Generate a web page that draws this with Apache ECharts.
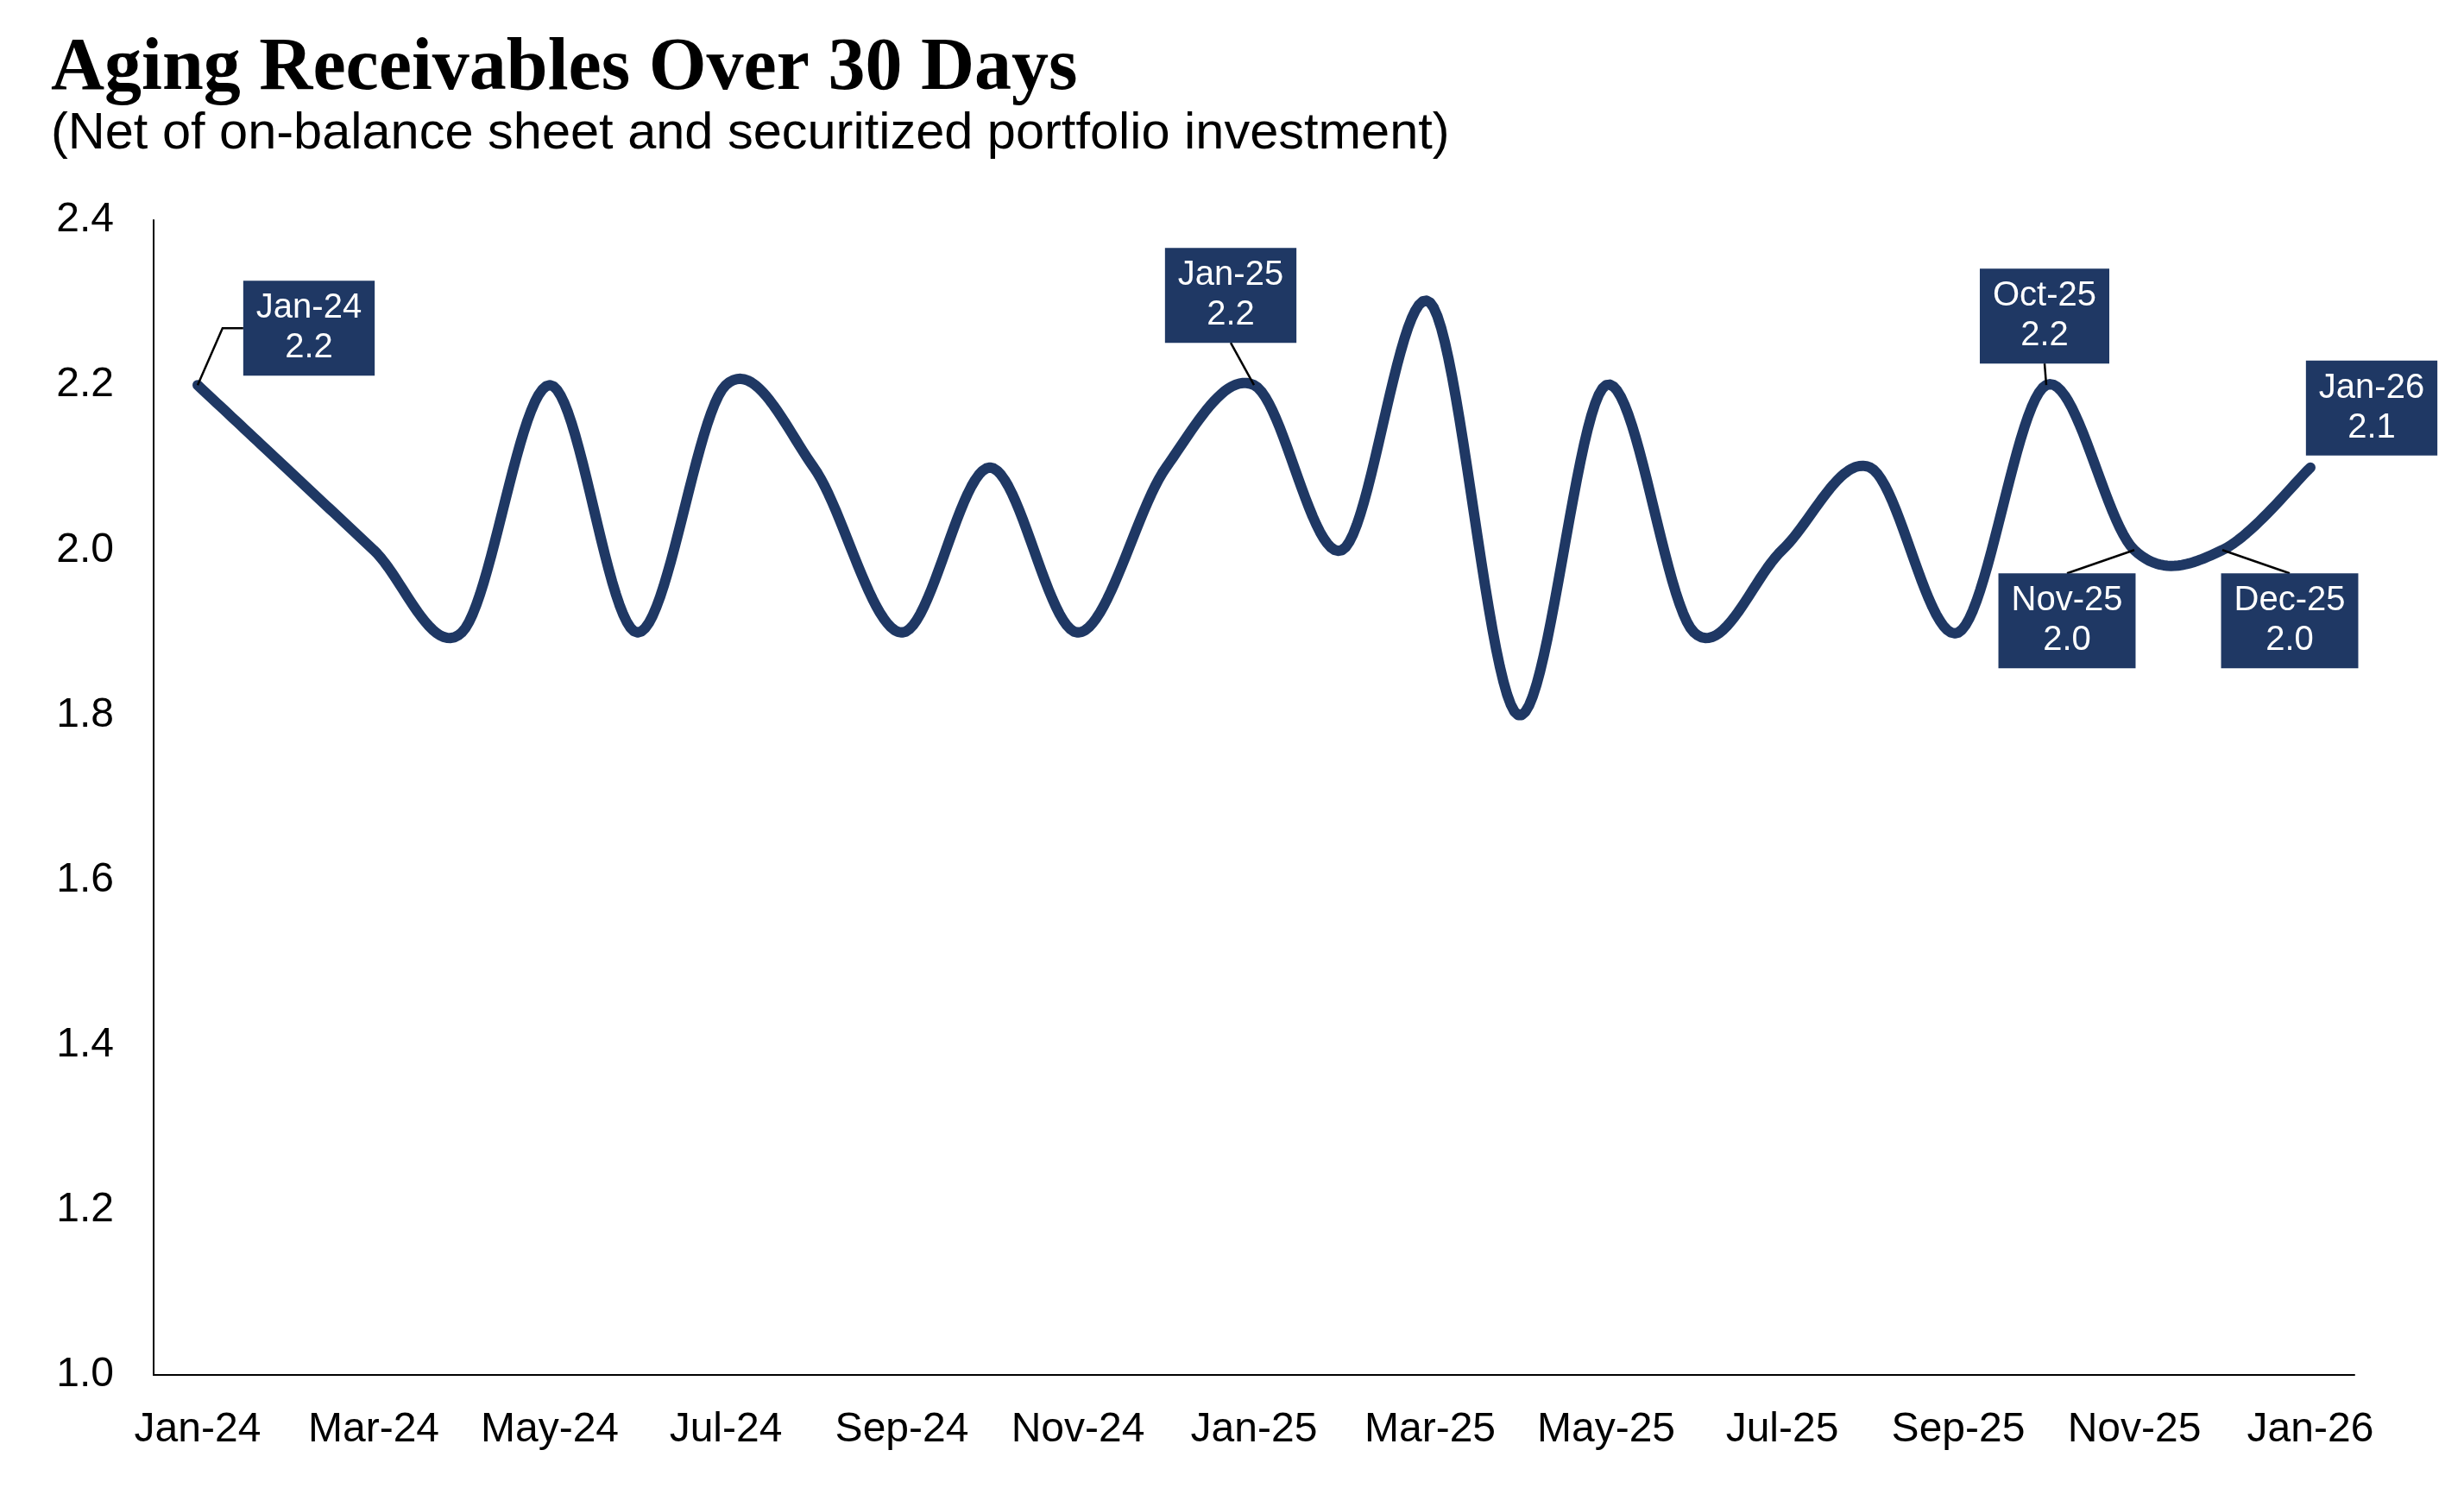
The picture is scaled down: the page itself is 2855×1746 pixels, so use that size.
<!DOCTYPE html>
<html>
<head>
<meta charset="utf-8">
<script src="https://cdn.jsdelivr.net/npm/echarts@6/dist/echarts.min.js"></script>
<style>
html,body{margin:0;padding:0;background:#fff;}
#chart{width:2855px;height:1746px;}
</style>
</head>
<body>
<div id="chart"></div>
<script>
const categories = ['Jan-24','Feb-24','Mar-24','Apr-24','May-24','Jun-24','Jul-24','Aug-24','Sep-24','Oct-24','Nov-24','Dec-24',
  'Jan-25','Feb-25','Mar-25','Apr-25','May-25','Jun-25','Jul-25','Aug-25','Sep-25','Oct-25','Nov-25','Dec-25','Jan-26'];
const values = [2.2,2.1,2.0,1.9,2.2,1.9,2.2,2.1,1.9,2.1,1.9,2.1,
  2.2,2.0,2.3,1.8,2.2,1.9,2.0,2.1,1.9,2.2,2.0,2.0,2.1];
const yTicks = [1.0,1.2,1.4,1.6,1.8,2.0,2.2,2.4];
const labelledMonths = ['Jan-24','Jan-25','Oct-25','Nov-25','Dec-25','Jan-26'];

const titleText = 'Aging Receivables Over 30 Days';
const subtitleText = '(Net of on-balance sheet and securitized portfolio investment)';

// label box offsets (px) from the point, and how the leader line attaches (layout only)
const labelOffsets = {
  'Jan-24': [129, -66],
  'Jan-25': [-27, -104],
  'Oct-25': [-2, -80],
  'Nov-25': [-78, 82],
  'Dec-25': [78, 82],
  'Jan-26': [71, -69]
};
const leaderAttach = {
  'Jan-24': 'leftKink',
  'Jan-25': 'bottom',
  'Oct-25': 'bottom',
  'Nov-25': 'top',
  'Dec-25': 'top',
  'Jan-26': 'none'
};

const NAVY = '#1f3864';
const LABEL_FONT_SIZE = 40, LABEL_LINE_H = 46, PAD_V = 9, PAD_H = 15;

const measureCtx = document.createElement('canvas').getContext('2d');
function boxSize(lines) {
  measureCtx.font = LABEL_FONT_SIZE + 'px "Liberation Sans"';
  let w = 0;
  lines.forEach(l => { w = Math.max(w, measureCtx.measureText(l).width); });
  return [w + 2 * PAD_H, lines.length * LABEL_LINE_H + 2 * PAD_V];
}

// smooth (Catmull-Rom style) path through points placed by the axes
function smoothPoints(pts) {
  const out = [];
  const n = pts.length;
  const steps = 24;
  for (let i = 0; i < n - 1; i++) {
    const p0 = pts[Math.max(0, i - 1)];
    const p1 = pts[i];
    const p2 = pts[i + 1];
    const p3 = pts[Math.min(n - 1, i + 2)];
    const c1 = [p1[0] + (p2[0] - p0[0]) / 6, p1[1] + (p2[1] - p0[1]) / 6];
    const c2 = [p2[0] - (p3[0] - p1[0]) / 6, p2[1] - (p3[1] - p1[1]) / 6];
    for (let s = (i === 0 ? 0 : 1); s <= steps; s++) {
      const t = s / steps, u = 1 - t;
      const a = u * u * u, b = 3 * u * u * t, c = 3 * u * t * t, d = t * t * t;
      out.push([a * p1[0] + b * c1[0] + c * c2[0] + d * p2[0],
                a * p1[1] + b * c1[1] + c * c2[1] + d * p2[1]]);
    }
  }
  return out;
}

const option = {
  backgroundColor: '#fff',
  animation: false,
  title: [
    { text: titleText, left: 54, top: 33,
      textStyle: { fontFamily: 'Liberation Serif', fontWeight: 'bold', fontSize: 86, color: '#000' } },
    { text: subtitleText, left: 54, top: 121,
      textStyle: { fontFamily: 'Liberation Sans', fontWeight: 'normal', fontSize: 59.5, color: '#000' } }
  ],
  grid: { left: 178, right: 127, top: 255, bottom: 153, containLabel: false },
  xAxis: {
    type: 'category',
    data: categories,
    boundaryGap: true,
    axisLine: { show: true, lineStyle: { color: '#000', width: 2 } },
    axisTick: { show: false },
    axisLabel: { interval: 1, margin: 40, fontFamily: 'Liberation Sans', fontSize: 48, color: '#000' },
    splitLine: { show: false }
  },
  yAxis: {
    type: 'value',
    min: yTicks[0],
    max: yTicks[yTicks.length - 1],
    interval: 0.2,
    axisLine: { show: true, lineStyle: { color: '#000', width: 2 } },
    axisTick: { show: false },
    splitLine: { show: false },
    axisLabel: { margin: 46, fontFamily: 'Liberation Sans', fontSize: 48, color: '#000',
      formatter: v => v.toFixed(1) }
  },
  series: [
    {
      type: 'custom',
      data: values.map((v, i) => [i, v]),
      encode: { x: 0, y: 1 },
      clip: false,
      silent: true,
      renderItem: function (params, api) {
        if (params.dataIndex !== 0) return null;
        const pts = values.map((v, i) => api.coord([i, v]));
        const children = [{
          type: 'polyline',
          shape: { points: smoothPoints(pts) },
          style: { stroke: NAVY, lineWidth: 12, fill: null, lineCap: 'round', lineJoin: 'round' },
          z2: 1
        }];
        labelledMonths.forEach(name => {
          const i = categories.indexOf(name);
          const p = pts[i];
          const off = labelOffsets[name];
          const lines = [name, values[i].toFixed(1)];
          const sz = boxSize(lines);
          const cx = p[0] + off[0], cy = p[1] + off[1];
          const left = cx - sz[0] / 2, top = cy - sz[1] / 2, bottom = cy + sz[1] / 2;
          const mode = leaderAttach[name];
          let lp = null;
          if (mode === 'leftKink') lp = [p, [left - 24, cy], [left, cy]];
          else if (mode === 'bottom') lp = [p, [cx, bottom]];
          else if (mode === 'top') lp = [p, [cx, top]];
          if (lp) {
            children.push({
              type: 'polyline',
              shape: { points: lp },
              style: { stroke: '#000', lineWidth: 2.5, fill: null },
              z2: 2
            });
          }
          children.push({
            type: 'rect',
            shape: { x: left, y: top, width: sz[0], height: sz[1] },
            style: { fill: NAVY },
            z2: 3
          });
          children.push({
            type: 'text',
            style: {
              text: lines.join('\n'),
              x: cx, y: cy,
              align: 'center', verticalAlign: 'middle',
              fill: '#fff',
              font: LABEL_FONT_SIZE + 'px "Liberation Sans"',
              lineHeight: LABEL_LINE_H
            },
            z2: 4
          });
        });
        return { type: 'group', children: children };
      }
    }
  ]
};

const chart = echarts.init(document.getElementById('chart'), null, { renderer: 'canvas' });
chart.setOption(option);
</script>
</body>
</html>
